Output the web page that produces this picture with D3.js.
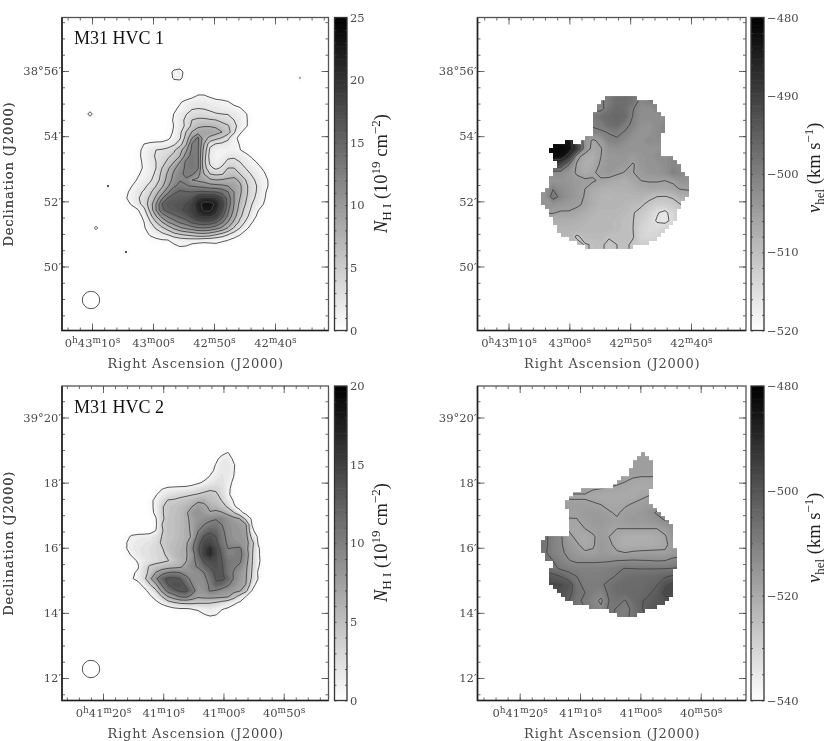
<!DOCTYPE html>
<html>
<head>
<title>M31 HVC maps</title>
<script src="https://d3js.org/d3.v7.min.js"></script>
<style>
  html, body { margin: 0; padding: 0; background: #fff; }
  svg { display: block; filter: blur(0.3px); }
  text { font-family: "DejaVu Serif", serif; font-size: 11.5px; fill: #4a4a4a; }
  .axistitle { font-size: 13px; }
  .title { font-family: "Liberation Serif", serif; font-size: 18px; fill: #111; }
  .bartitle { font-family: "Liberation Serif", serif; font-size: 18.5px; fill: #222; }
  .axis line { stroke: #444; stroke-width: 0.8; }
  .axis path { display: none; }
  .contour { fill: none; stroke: #444; stroke-width: 0.9; }
</style>
</head>
<body>
<script>
// HVC 1 column density, 1e19 cm^-2
var nhi1 = [
[0,0,0,0,0,0,0,0,0,0,0,0,0,0,0,0,0,0,0,0,0,0,0,0,0,0,0],
[0,0,0,0,0,0,0,0,0,0,0,0,.5,1.2,1.2,.7,0,0,0,0,0,0,0,0,0,0,0],
[0,0,0,0,0,0,0,0,0,0,.8,1.5,2,2.2,2.2,2,1.8,1.5,1.1,.4,0,0,0,0,0,0,0],
[0,0,0,0,0,0,0,0,0,.6,1.3,2,2.8,2.9,2.8,2.6,2.4,2.1,1.8,1.5,1.1,.3,0,0,0,0,0],
[0,0,0,0,0,0,0,0,0,1.05,2,2.9,3.6,4,3.9,3.4,3.1,3,2.9,2.4,1.8,1.1,.3,0,0,0,0],
[0,0,0,0,0,0,0,0,.3,1.2,2.3,3.4,5,5.4,5.4,5.2,5,4.3,3.9,3,2,1.2,.3,0,0,0,0],
[0,0,0,0,0,0,0,0,.3,1.05,2.3,3.3,5.6,7,7.3,7.3,7,6,5.2,3.6,2.2,1.2,.2,0,0,0,0],
[0,0,0,0,0,0,0,0,.4,1.2,2.5,5,7.6,8.8,9.3,9.2,8.6,7.5,6,3.3,1.3,.3,0,0,0,0,0],
[0,0,0,0,0,0,0,0,.6,1.7,2.8,5.8,10,13,8.5,6.8,5.6,4.8,3.4,1.6,.4,0,0,0,0,0,0],
[0,0,0,.2,1,1.3,1.5,1.6,1.9,2.6,4,7,12.6,13,7.5,3.5,2.9,2.6,2.3,1.5,.9,.1,0,0,0,0,0],
[0,0,0,.6,1.4,2.2,3,3.2,3.6,4.6,6.5,9.5,13,12.8,6.5,2.6,1.8,1.6,1.6,1.5,1.05,.4,0,0,0,0,0],
[0,0,0,.7,1.4,2.4,3.2,3.7,4.6,5.6,7.5,11,13.5,12.8,6,2.2,1.5,1.7,2.5,2.6,2.2,1.5,.7,.1,0,0,0],
[0,0,0,.5,1.3,2.3,3,4.2,5.5,7.5,10,13,13.5,12.8,5.6,2.6,1.8,2.3,3.5,3.7,3,2.2,1.5,.8,.1,0,0],
[0,0,0,.5,1.2,2,3,5,7,9.5,11.2,13,13.5,12.8,6,3.4,2.6,3.3,5,5,3.7,2.9,2.1,1.4,.7,0,0],
[0,0,0,.8,1.5,2.2,3.4,5.6,8,10.5,12,13,13,11,7.5,5,4.5,4.8,6,6.5,5,3.7,2.8,1.9,1.2,.3,0],
[0,0,.4,1.2,1.9,2.7,3.8,6,8.6,11,12.3,12.2,10,9.5,9,8,7.5,7.7,8,8.2,7,4.9,3.4,2.5,1.5,.7,0],
[0,.1,1,1.9,2.6,3.5,5,7,9.7,12,13.4,12.6,12.4,12,11.6,11,10.8,10.5,10,9.5,8,5.5,3.7,2.8,1.6,.7,0],
[0,.6,1.6,2.6,3.2,4.5,6.5,9,12,14.5,15.5,15.2,15,15.3,15.4,15.2,15,14.2,12.6,10,8,5.5,3.7,2.7,1.3,.4,0],
[0,.9,1.7,2.8,3.8,5.4,8,12,15,16,16,16.4,17,20,20.5,20.5,20,17.5,14,10,7.5,5.2,3.5,2.4,1.2,.2,0],
[0,.5,1.2,2.4,3.8,6,10,15,16.5,16.8,17,17.5,19,21.5,23.5,23.5,22,19,14,10,6.8,4.8,3,2.1,.9,0,0],
[0,0,.3,.9,2.4,5.5,10,14.5,16,16.5,17,18,19,21,23,23,21,18,13,9.5,6.3,4,2.6,1.1,.3,0,0],
[0,0,0,.3,1.5,4,7.5,11,13,14.5,15.5,16.5,18,20,20.5,20.5,19.5,16,12,8.5,5.5,3.6,2,.6,0,0,0],
[0,0,0,.1,1,2.8,5,7.5,10,11.5,13,14,15.5,16.5,17,16.7,15.5,13,10,7,4.4,2.7,1.1,.1,0,0,0],
[0,0,0,0,.8,1.9,3.2,4.5,6,8,9.5,10.5,11.5,12.3,12.5,12,11,9.5,7.3,4.7,3,1.4,.3,0,0,0,0],
[0,0,0,0,.4,1.2,1.8,2.6,3.3,4.4,5.2,5.7,6.2,6.8,7,6.5,5.5,4.5,3.3,2.2,1.2,.2,0,0,0,0,0],
[0,0,0,0,0,.5,.7,.9,1,1.6,2,2.2,2.2,2.1,1.8,1.7,1.5,1.3,1.05,.4,0,0,0,0,0,0,0],
[0,0,0,0,0,0,0,0,0,.7,1.1,1,.3,0,0,.3,.6,.3,0,0,0,0,0,0,0,0,0],
[0,0,0,0,0,0,0,0,0,0,0,0,0,0,0,0,0,0,0,0,0,0,0,0,0,0,0]
];
// isolated noise peaks around HVC 1: [column, row, value] on the full frame grid
var nhi1Spots = [[20,9,2],[19,9,1.5],[20,10,1.5],[19,10,1.3],[5,16,1.6],[8,28,1.2],[6,35,1.4],[11,39,1.2],[40,10,1.1]];
var nhi1Levels = [1,3,5,7.5,10,12.5,15,17.5,20,22.5];

// HVC 2 column density
var nhi2 = [
[0,0,0,0,0,0,0,0,0,0,0,0,0,0,0,0,0,0,0,0,0,0,0,0,0,0],
[0,0,0,0,0,0,0,0,0,0,0,0,0,0,0,0,0,.5,1.05,0,0,0,0,0,0,0],
[0,0,0,0,0,0,0,0,0,0,0,0,0,0,0,0,.6,1.6,1.8,.6,0,0,0,0,0,0],
[0,0,0,0,0,0,0,0,0,0,0,0,0,0,0,.2,1.1,2,2.2,1.1,.1,0,0,0,0,0],
[0,0,0,0,0,0,0,0,0,0,0,0,0,0,0,.6,1.3,2.2,2.2,1.05,.1,0,0,0,0,0],
[0,0,0,0,0,0,0,0,0,0,0,0,0,0,.3,1.1,2,2.4,1.9,.95,.1,0,0,0,0,0],
[0,0,0,0,0,0,0,0,0,0,0,0,.2,.7,1.3,2,2.5,2.6,1.6,.6,0,0,0,0,0,0],
[0,0,0,0,0,0,.4,.9,1.3,1.4,1.5,1.6,2,2.6,3.1,3.6,3.6,2.9,1.4,.3,0,0,0,0,0,0],
[0,0,0,0,0,.2,.9,1.8,2.6,3,3.4,3.6,3.9,4.2,4.6,4.9,4.4,3.2,1.3,.3,0,0,0,0,0,0],
[0,0,0,0,0,.6,1.4,3,4.2,4.3,4.6,5,5.5,6.6,6.6,5.4,5,3.9,2,.8,.1,0,0,0,0,0],
[0,0,0,0,0,.5,1.5,3.8,4.7,5,5.5,6,7,8,7.5,6.6,6,5,3.6,1.2,.4,0,0,0,0,0],
[0,0,0,0,0,.4,1.4,3.8,4.7,5,5.6,6.6,8.2,8.8,8,7.1,7.6,7.2,6,4.1,1.6,.3,0,0,0,0],
[0,0,0,0,0,.2,.9,3.6,4.8,5.2,5.7,6.5,7.6,8.5,9,9.4,9.8,9.9,8.7,7.8,6.9,3,.6,0,0,0],
[0,0,0,0,0,0,.7,4,5,5.2,5.7,6.4,7.5,9,10,10.8,11,10,9,8.5,8,7.2,.95,.1,0,0],
[0,0,0,0,0,.1,1.05,3.8,5,5.2,5.8,6.5,7.3,9.8,11.5,12.5,12.2,10.5,9,8.6,8.3,7.6,1.3,.3,0,0],
[0,.5,1.3,1.6,1.7,1.9,2.6,4.1,4.8,5.2,5.8,6.4,7.2,11,13.2,14,13,10.8,9.3,8.6,8.4,8,3,.7,0,0],
[0,.9,1.6,2,2.2,2.5,3,4.4,5,5.5,6,6.5,8.8,12,14.5,14.8,13.6,11,9.6,9,8.7,8.2,5,.9,0,0],
[0,.9,1.6,2.2,2.4,2.8,3.3,3.8,5.1,5.7,6.2,6.7,9.5,12.6,15,17,14.5,12,10,10.2,10.4,8,4.5,1.3,0,0],
[0,.5,1.2,2,2.4,2.7,3.2,3.6,4.4,5.5,6.3,6.7,8.5,12,15.3,17,14.8,12.6,10.2,10.2,10.5,8.8,4.3,1.3,.1,0],
[0,0,.5,1.2,2,2.6,3.1,3.5,3.9,4.8,5.8,6.8,9,11,13.5,14.5,14.3,13,11,10.6,10.3,8.2,4.2,1.4,.2,0],
[0,0,0,.8,2.8,4.4,4.9,5.3,5.8,6.1,6.5,7.8,9.5,10.2,12,13.2,14,13.3,11,10.2,9.6,7.6,4,1.2,0,0],
[0,0,.7,1.3,2.9,4.8,7.2,8.9,10,10.4,10,9,8.6,9,10,12,13.5,13.4,11,9.8,8.5,7.3,3.8,.8,0,0],
[0,0,.9,1.4,3.1,6.4,9.5,12.4,13.5,13.5,13,10.9,9.2,8.8,9.4,11,13.2,13.5,12.3,9.7,8.3,7.2,3.5,1,0,0],
[0,0,0,.5,1.5,3.8,6.6,10.5,13,14,14,12.5,10,8.7,9,10.4,12.6,12,10.3,9,7.9,6.9,2.2,0,0,0],
[0,0,0,0,.5,1.6,3.6,7.8,11,12.5,13.5,13.6,11.5,8.6,8.8,10.2,9.8,9,8.5,7.9,7.3,4.7,.9,0,0,0],
[0,0,0,0,0,.7,1.7,4,7,8.6,10.2,10.5,9,7.4,7.8,7.9,7.8,7.6,7.2,5,2.6,.9,0,0,0,0],
[0,0,0,0,0,0,.6,1.4,2.8,3.8,4.4,4.6,4.6,4.3,4.3,4.2,3.8,3,2.2,1.4,.7,0,0,0,0,0],
[0,0,0,0,0,0,0,0,0,.6,.9,.9,1.1,1.3,1.8,2,1.6,1.15,.8,.2,0,0,0,0,0,0],
[0,0,0,0,0,0,0,0,0,0,0,0,0,.3,.9,1.3,1.05,.3,0,0,0,0,0,0,0,0],
[0,0,0,0,0,0,0,0,0,0,0,0,0,0,0,0,0,0,0,0,0,0,0,0,0,0]
];
var nhi2Levels = [1,4,7,10,13,15.5];

// HVC 1 heliocentric velocity, km/s
var vel1 = [
[-500,-500,-500,-500,-500,-500,-499,-500.5,-499,-497,-497,-498,-501,-500,-500,-500,-500,-500,-500],
[-499,-499,-499,-499,-499,-499,-500.5,-501,-498,-496.5,-497,-499.8,-502,-502,-501,-501,-501,-501,-501],
[-499,-499,-499,-499,-499,-499,-499,-497.5,-496.5,-496,-496.5,-500.2,-502,-502,-502,-502,-502,-502,-502],
[-499.5,-499.5,-499.5,-499.5,-499.5,-499.5,-499.5,-499.2,-497,-496.5,-499.3,-500.5,-502.5,-503,-502,-501,-501,-501,-501],
[-485,-485,-485,-488,-497,-501,-501,-500.4,-499.9,-499.6,-500.2,-502,-503,-503,-501.5,-501,-501,-501,-501],
[-481,-481,-482,-483,-492,-503,-505.6,-504,-500.6,-500.3,-501.5,-503,-503,-501.5,-502,-502,-502,-502,-502],
[-481,-481,-481,-482,-489,-503,-506,-505.2,-503,-502.5,-503,-503,-503,-503,-503,-502.5,-502,-502,-502],
[-482,-482,-482,-488,-504,-506.5,-507,-505,-503.5,-503.5,-503.5,-504,-503.5,-503,-502,-502,-501,-501,-501],
[-495,-490,-492,-500,-505.5,-507,-506.5,-504.5,-503.5,-503.5,-504,-505.3,-503.5,-503,-503,-502,-501,-501,-501],
[-502,-502,-502,-503.5,-505.5,-506.5,-505.5,-504,-503.5,-504.5,-505.2,-505.1,-504,-503.5,-503,-502.5,-500,-501,-501],
[-503,-503,-503,-503.5,-504,-504.5,-504.7,-505.5,-506,-506.5,-507,-506,-505,-504.8,-504.8,-505,-504.7,-503,-503],
[-503,-500.2,-502,-503,-504,-505,-506.5,-507,-507.5,-507.5,-507.5,-507,-506.5,-506,-506,-506,-505.5,-504.8,-504.5],
[-503,-498.5,-501,-503,-504,-505.2,-507,-508,-508.5,-508,-508,-508,-508,-509,-510,-510.2,-509.5,-507,-507],
[-503,-503,-503.5,-504,-504.5,-505.5,-507,-508,-508,-508,-508.5,-509,-509.5,-511,-512,-512,-511.5,-510,-510],
[-504.8,-504.8,-505.4,-505.3,-506,-507,-508,-508.5,-508.5,-508.5,-509,-509.8,-511,-512.5,-514.7,-516,-513,-511,-511],
[-507,-507,-507,-507,-507.5,-508,-508.5,-508.5,-508.5,-509,-509.5,-509.9,-512,-513.5,-515.3,-516,-514,-511,-511],
[-508,-508,-508,-508,-508,-508.5,-508.5,-508.5,-508.5,-509,-509.5,-510,-513,-514,-514,-513,-512,-512,-512],
[-508.5,-508.5,-508.5,-508.5,-510.5,-509,-509,-509,-509.7,-509.5,-509.5,-509.8,-513,-513.5,-513,-512,-512,-512,-512],
[-509,-509,-509,-509,-509,-510.2,-509.8,-509.5,-510.8,-510,-509.5,-510.5,-512,-512,-512,-512,-512,-512,-512]
];
var vel1Levels = [-515,-510,-505,-500,-495,-490,-485];
// map footprint: start/end column pairs for each row of 4 px cells
var vel1Rows = [
[16,24],[15,28],[14,29],[14,29],[13,30],[13,31],[13,31],[13,31],[13,31],[13,30],[11,30],[6,8,10,30],
[3,30],[2,30],[3,30],[3,33],[4,34],[4,35],[3,35],[3,36],[2,37],[2,37],[2,37],[1,37],[0,37],[0,36],
[0,35],[1,35],[2,34],[2,34],[3,34],[3,33],[4,32],[4,31],[5,30],[7,29],[9,27],[11,23]
];

// HVC 2 heliocentric velocity
var vel2 = [
[-517,-517,-517,-517,-517,-517,-517,-517,-517,-517,-517,-517,-517,-517,-517,-517,-517,-517],
[-517,-517,-517,-517,-517,-517,-517,-517,-517,-517,-517,-517,-517,-517,-517,-517,-517,-517],
[-517,-517,-517,-517,-517,-517,-517,-517,-517,-517,-517,-517,-517,-517,-517,-517,-517,-517],
[-517,-517,-517,-517,-517,-517,-517,-517,-517,-517.5,-517.8,-518.5,-519,-519,-519,-519,-519,-519],
[-517,-517,-517,-517,-517,-517,-517.8,-518,-518.2,-518.4,-519,-519.5,-519.5,-519.5,-519,-518,-518,-518],
[-518,-518,-518,-518.5,-518.5,-518.5,-519,-519.5,-519.5,-519.5,-519.5,-519.5,-518.5,-517.8,-516,-516,-516,-516],
[-517,-517,-517,-517,-517,-517,-517.5,-518,-519,-519,-518.5,-517.6,-517,-516,-515,-515,-515,-515],
[-517,-517,-517,-517,-517.5,-516.5,-516,-516.5,-517.6,-518.5,-517,-516.5,-516,-514.5,-512.5,-512,-512,-512],
[-516,-516,-516,-518.5,-518.2,-517,-516,-516,-516.5,-517.5,-516.5,-516,-516,-515.5,-514.5,-513,-513,-513],
[-516,-516,-516,-518.5,-519,-518,-517,-516.5,-517.9,-518,-518,-518,-518,-518,-518,-516.5,-514,-514],
[-507,-510,-512.5,-517,-519,-519.5,-518.5,-516.5,-518,-519.5,-520.5,-521,-521,-521,-520,-518.5,-515,-514],
[-507,-510,-512.5,-515.5,-517.5,-519.5,-518.5,-516,-517,-519.5,-521,-520.5,-520.5,-520.5,-520,-518.8,-516.5,-515],
[-507.5,-510,-512,-514.5,-516,-517.5,-517.5,-516,-516.5,-517.5,-518,-517.5,-517.2,-517,-517,-517.5,-516,-515],
[-506,-508,-510.5,-512.8,-514,-514,-514,-513.8,-513.5,-513,-512.8,-512.6,-512.8,-512.9,-513.2,-513,-511.5,-511],
[-505,-507,-508.6,-509.5,-510,-510,-510,-510,-509.5,-508.8,-507.8,-508,-508.1,-508.1,-508.1,-508,-507.8,-507.5],
[-500,-501,-503,-506,-508,-509.5,-509.5,-509.5,-508.8,-507.6,-506,-505.5,-505.5,-505,-504.5,-503.5,-502,-502],
[-498,-497.5,-498,-500,-507,-509,-509,-508.6,-507,-505.5,-505,-505,-505,-504,-503.2,-499,-497,-497],
[-498,-498,-498.5,-501,-506.5,-508,-509.5,-511,-507,-505.5,-505,-504.5,-504.5,-503.6,-501.5,-497,-497,-497],
[-499,-499,-500,-503,-507.5,-508.5,-511,-514,-508,-506.5,-508.3,-505.5,-503.4,-502,-500.5,-499,-499,-499],
[-503,-503,-504,-505,-506,-508,-510,-512,-507,-508.3,-509.5,-507,-503.5,-501,-500,-500,-500,-500],
[-507,-507,-507,-507,-507,-507,-507,-507,-507,-509,-509,-507,-504,-502,-501,-501,-501,-501]
];
var vel2Levels = [-518,-513,-508,-503,-498];
var vel2Rows = [
[25,26],[24,27],[23,28],[23,28],[22,28],[22,28],[20,28],[19,28],[18,28],[10,27],[8,27],[7,27],[6,27],[6,28],
[7,29],[7,30],[7,31],[7,32],[7,33],[7,33],[7,33],[1,33],[0,33],[0,33],[0,34],[1,34],[1,34],[3,34],[3,34],
[2,33],[2,33],[2,33],[2,33],[3,33],[4,33],[5,33],[6,32],[8,31],[12,29],[17,26],[19,24]
];

// tick values: RA in seconds of time past 0h, Dec in arcmin past the whole degree
var ra1Ticks = [2590,2580,2570,2560];
var ra1Labels = ["0h43m10s","43m00s","42m50s","42m40s"];
var ra2Ticks = [2480,2470,2460,2450];
var ra2Labels = ["0h41m20s","41m10s","41m00s","40m50s"];
var dec1Ticks = [56,54,52,50];
var dec1Labels = ["38°56′","54′","52′","50′"];
var dec2Ticks = [20,18,16,14,12];
var dec2Labels = ["39°20′","18′","16′","14′","12′"];

var nhi1Bar = [0,5,10,15,20,25];
var nhi2Bar = [0,5,10,15,20];
var vel1Bar = [-480,-490,-500,-510,-520];
var vel2Bar = [-480,-500,-520,-540];

var svg = d3.select("body").append("svg").attr("width", 830).attr("height", 741);
var clipCount = 0;

// turn the value table into a flat contour grid, padded out to size
function padGrid(rows, n, m, c0, r0, spots, fill) {
    var values = [];
    for (var j = 0; j < m; j++) {
        for (var i = 0; i < n; i++) {
            var v;
            if (fill === undefined) {
                var jj = Math.max(0, Math.min(rows.length - 1, j - r0));
                var ii = Math.max(0, Math.min(rows[0].length - 1, i - c0));
                v = rows[jj][ii];
            } else {
                var row = rows[j - r0];
                v = row && row[i - c0] !== undefined ? row[i - c0] : fill;
            }
            values.push(v);
        }
    }
    (spots || []).forEach(function (s) { values[s[1] * n + s[0]] = s[2]; });
    return values;
}

function drawMap(p) {
    var clipId = "clip" + (clipCount++);
    var clip = svg.append("clipPath").attr("id", clipId);
    if (p.maskRows) {
        var mx = d3.scaleLinear().domain([0, 1]).range([p.mask[0], p.mask[0] + 4]);
        var my = d3.scaleLinear().domain([0, 1]).range([p.mask[1], p.mask[1] + 4]);
        p.maskRows.forEach(function (segs, r) {
            for (var k = 0; k < segs.length; k += 2) {
                clip.append("rect").attr("x", mx(segs[k])).attr("y", my(r))
                    .attr("width", mx(segs[k + 1]) - mx(segs[k])).attr("height", 4.05);
            }
        });
    } else {
        clip.append("rect").attr("x", p.frame[0]).attr("y", p.frame[2])
            .attr("width", p.frame[1] - p.frame[0]).attr("height", p.frame[3] - p.frame[2]);
    }

    var gx = d3.scaleLinear().domain([0, 1]).range([p.origin[0], p.origin[0] + p.step]);
    var gy = d3.scaleLinear().domain([0, 1]).range([p.origin[1], p.origin[1] + p.step]);
    var path = d3.geoPath(d3.geoTransform({
        point: function (x, y) { this.stream.point(gx(x - 0.5), gy(y - 0.5)); }
    }));
    var contours = d3.contours().size([p.n, p.m]);
    var color = d3.scaleLinear().domain(p.range).range(["#fff", "#000"]);

    var g = svg.append("g").attr("clip-path", "url(#" + clipId + ")");
    if (p.maskRows) {
        g.append("rect").attr("x", p.frame[0]).attr("y", p.frame[2])
            .attr("width", p.frame[1] - p.frame[0]).attr("height", p.frame[3] - p.frame[2])
            .attr("fill", color(d3.min(p.values)));
    }
    var bands = d3.range(d3.min(p.values) + 0.25, d3.max(p.values), 0.5);
    g.selectAll("path.band").data(contours.thresholds(bands)(p.values)).enter().append("path")
        .attr("class", "band").attr("d", path)
        .attr("fill", function (d) { return color(d.value); });
    g.selectAll("path.contour").data(contours.thresholds(p.levels)(p.values)).enter().append("path")
        .attr("class", "contour").attr("d", path);
}

function superLabel(sel) {
    // the h, m, s unit letters sit raised above the digits
    sel.each(function () {
        var t = d3.select(this), s = t.text(), raised = false;
        t.text(null);
        s.split(/([hms])/).forEach(function (part) {
            if (!part) return;
            if (/[hms]/.test(part)) {
                t.append("tspan").attr("dy", -4).attr("font-size", 9).text(part);
                raised = true;
            } else {
                var span = t.append("tspan").text(part);
                if (raised) span.attr("dy", 4);
                raised = false;
            }
        });
    });
}

// ticks only, the text of label-less axes is dropped below
function ticks(axis, scale, vals, size, labels) {
    var a = axis(scale).tickValues(vals).tickSize(size).tickPadding(0);
    if (labels) {
        a.tickFormat(function (d, i) { return labels[i]; });
        return a;
    }
    return function (sel) {
        a.tickFormat("");
        sel.call(a);
        sel.selectAll("text").remove();
    };
}

function drawFrame(p) {
    var x = d3.scaleLinear().domain(p.raAnchor).range(p.xAnchor);
    var y = d3.scaleLinear().domain(p.decAnchor).range(p.yAnchor);
    var xDom = [x.invert(p.frame[0]), x.invert(p.frame[1])];
    var yDom = [y.invert(p.frame[3]), y.invert(p.frame[2])];
    var raMinor = d3.range(Math.ceil(xDom[1] / 2) * 2, xDom[0], 2);
    var decMinor = d3.range(Math.ceil(yDom[0] * 2) / 2, yDom[1], 0.5);

    var f = p.frame;
    svg.append("g").attr("class", "axis").attr("transform", "translate(0," + f[3] + ")")
        .call(ticks(d3.axisBottom, x, raMinor, -3));
    var bMajor = svg.append("g").attr("class", "axis").attr("transform", "translate(0," + f[3] + ")")
        .call(ticks(d3.axisBottom, x, p.raTicks, -7, p.raLabels));
    bMajor.selectAll("text").attr("y", 8).attr("dy", "0.71em").call(superLabel);

    svg.append("g").attr("class", "axis").attr("transform", "translate(0," + f[2] + ")")
        .call(ticks(d3.axisTop, x, raMinor, -3));
    svg.append("g").attr("class", "axis").attr("transform", "translate(0," + f[2] + ")")
        .call(ticks(d3.axisTop, x, p.raTicks, -7));

    svg.append("g").attr("class", "axis").attr("transform", "translate(" + f[0] + ",0)")
        .call(ticks(d3.axisLeft, y, decMinor, -3));
    svg.append("g").attr("class", "axis").attr("transform", "translate(" + f[0] + ",0)")
        .call(ticks(d3.axisLeft, y, p.decTicks, -7, p.decLabels))
        .selectAll("text").attr("x", -1);
    svg.append("g").attr("class", "axis").attr("transform", "translate(" + f[1] + ",0)")
        .call(ticks(d3.axisRight, y, decMinor, -3));
    svg.append("g").attr("class", "axis").attr("transform", "translate(" + f[1] + ",0)")
        .call(ticks(d3.axisRight, y, p.decTicks, -7));

    svg.append("rect").attr("x", f[0]).attr("y", f[2]).attr("width", f[1] - f[0]).attr("height", f[3] - f[2])
        .attr("fill", "none").attr("stroke", "#555").attr("stroke-width", 1.3);
    svg.append("path").attr("d", d3.line()([[f[0], f[2]], [f[0], f[3]], [f[1], f[3]]]))
        .attr("fill", "none").attr("stroke", "#222").attr("stroke-width", 1.6);

    svg.append("text").attr("class", "axistitle").attr("letter-spacing", 0.75)
        .attr("x", (f[0] + f[1]) / 2 + 0.5).attr("y", f[3] + 37.5).attr("text-anchor", "middle")
        .text("Right Ascension (J2000)");
    svg.append("text").attr("class", "axistitle").attr("letter-spacing", 0.9)
        .attr("transform", "translate(13," + ((f[2] + f[3]) / 2) + ") rotate(-90)")
        .attr("text-anchor", "middle").text("Declination (J2000)");
}

function drawBar(p) {
    var b = p.bar;
    var y = d3.scaleLinear().domain(p.range).range([p.frame[3], p.frame[2]]);
    var color = d3.scaleLinear().domain(p.range).range(["#fff", "#000"]);
    var steps = d3.range(0, 1, 1 / 120);
    var t = d3.scaleLinear().domain([0, 1]).range(p.range);
    svg.append("g").selectAll("rect").data(steps).enter().append("rect")
        .attr("x", b[0]).attr("width", b[1] - b[0])
        .attr("y", function (d) { return y(t(d + 1 / 120)); })
        .attr("height", (p.frame[3] - p.frame[2]) / 120 + 0.6)
        .attr("fill", function (d) { return color(t(d + 1 / 240)); });

    var lo = Math.min(p.range[0], p.range[1]), hi = Math.max(p.range[0], p.range[1]);
    var minor = d3.range(lo, hi + 0.01, p.barMinor);
    svg.append("g").attr("class", "axis").attr("transform", "translate(" + b[0] + ",0)")
        .call(ticks(d3.axisRight, y, minor, 2));
    svg.append("g").attr("class", "axis").attr("transform", "translate(" + b[1] + ",0)")
        .call(ticks(d3.axisLeft, y, minor, 2));
    var labels = p.barTicks.map(function (v) { return v < 0 ? "\u2212" + (-v) : "" + v; });
    var axis = svg.append("g").attr("class", "axis").attr("transform", "translate(" + b[1] + ",0)")
        .call(ticks(d3.axisRight, y, p.barTicks, 0, labels));
    axis.selectAll("text").attr("x", 3);
    svg.append("rect").attr("x", b[0]).attr("y", p.frame[2]).attr("width", b[1] - b[0])
        .attr("height", p.frame[3] - p.frame[2])
        .attr("fill", "none").attr("stroke", "#333").attr("stroke-width", 1.3);

    var title = svg.append("text").attr("class", "bartitle")
        .attr("transform", "translate(" + p.barTitle[0] + "," + p.barTitle[1] + ") rotate(-90)");
    p.barText.forEach(function (s) {
        var span = title.append("tspan").text(s[0]);
        if (s[1] === "i") span.attr("font-style", "italic");
        if (s[1] === "sub") span.attr("dy", 4).attr("font-size", 13);
        if (s[1] === "sup") span.attr("dy", -7).attr("font-size", 13);
        if (s[2]) span.attr("dy", s[2]);
    });
}

var nhiText1 = [["N", "i"], ["H I", "sub"], [" (10", "", -4], ["19", "sup"], [" cm", "", 7], ["\u22122", "sup"], [")", "", 7]];
var velText = [["v", "i"], ["hel", "sub"], ["  (km s", "", -4], ["\u22121", "sup"], [")", "", 7]];

var panels = [
    { frame: [62, 328.5, 17.5, 330.5], raAnchor: [2590, 2560], xAnchor: [92, 275], decAnchor: [56, 50], yAnchor: [71, 266.5],
      raTicks: ra1Ticks, raLabels: ra1Labels, decTicks: dec1Ticks, decLabels: dec1Labels,
      values: padGrid(nhi1, 46, 53, 10, 12, nhi1Spots, 0), n: 46, m: 53, origin: [60, 18], step: 6, levels: nhi1Levels,
      range: [0, 25], bar: [334.5, 347], barTicks: nhi1Bar, barMinor: 1, barTitle: [387, 233], barText: nhiText1 },
    { frame: [477.5, 746, 17.5, 330.5], raAnchor: [2590, 2560], xAnchor: [508.5, 691], decAnchor: [56, 50], yAnchor: [71, 266.5],
      raTicks: ra1Ticks, raLabels: ra1Labels, decTicks: dec1Ticks, decLabels: dec1Labels,
      values: padGrid(vel1, 21, 21, 1, 1), n: 21, m: 21, origin: [537, 92.67], step: 8, levels: vel1Levels,
      maskRows: vel1Rows, mask: [541, 96.67],
      range: [-520, -480], bar: [751, 764], barTicks: vel1Bar, barMinor: 2, barTitle: [820, 213], barText: velText },
    { frame: [62, 328.5, 386, 700.5], raAnchor: [2480, 2450], xAnchor: [103, 283.7], decAnchor: [20, 12], yAnchor: [417.5, 678],
      raTicks: ra2Ticks, raLabels: ra2Labels, decTicks: dec2Ticks, decLabels: dec2Labels,
      values: padGrid(nhi2, 46, 53, 10, 10, null, 0), n: 46, m: 53, origin: [60, 386.67], step: 6, levels: nhi2Levels,
      range: [0, 20], bar: [334.5, 347], barTicks: nhi2Bar, barMinor: 1, barTitle: [387, 602], barText: nhiText1 },
    { frame: [477.5, 746, 386, 700.5], raAnchor: [2480, 2450], xAnchor: [519.7, 700.7], decAnchor: [20, 12], yAnchor: [417.5, 678],
      raTicks: ra2Ticks, raLabels: ra2Labels, decTicks: dec2Ticks, decLabels: dec2Labels,
      values: padGrid(vel2, 20, 23, 1, 1), n: 20, m: 23, origin: [537, 448.67], step: 8, levels: vel2Levels,
      maskRows: vel2Rows, mask: [541, 452.67],
      range: [-540, -480], bar: [751, 764], barTicks: vel2Bar, barMinor: 5, barTitle: [820, 583], barText: velText }
];

panels.forEach(function (p) {
    drawMap(p);
    drawFrame(p);
    drawBar(p);
});

// labels and beam circles on the column density maps
svg.append("text").attr("class", "title").attr("x", 74).attr("y", 43.5).text("M31 HVC 1");
svg.append("text").attr("class", "title").attr("x", 74).attr("y", 412.5).text("M31 HVC 2");
svg.append("circle").attr("cx", 91).attr("cy", 300).attr("r", 8.7).attr("fill", "none").attr("stroke", "#555");
svg.append("circle").attr("cx", 91).attr("cy", 669).attr("r", 8.7).attr("fill", "none").attr("stroke", "#555");
</script>
</body>
</html>
